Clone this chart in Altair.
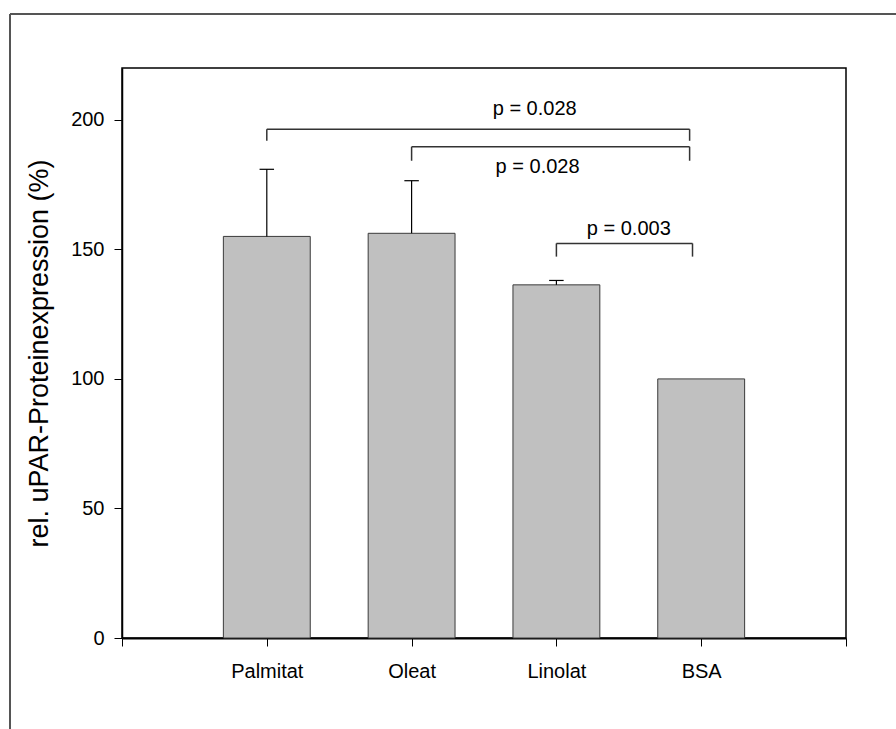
import json
import altair as alt
import pandas as pd

# Relative uPAR protein expression per fatty acid treatment (BSA = control)
categories = ["Palmitat", "Oleat", "Linolat", "BSA"]
means = [155.0, 156.2, 136.3, 100.0]
errors = [25.9, 20.3, 1.7, 0.0]

# Significance brackets: from group position to group position, at given heights
bracket_left = [1.0, 2.0, 3.0]
bracket_right = [3.92, 3.92, 3.94]
bracket_top = [196.4, 189.6, 152.3]
bracket_leg = [191.9, 184.2, 147.2]

p_labels = ["p = 0.028", "p = 0.028", "p = 0.003"]
p_label_x = [2.85, 2.87, 3.50]
p_label_y = [201.9, 179.3, 155.6]

y_ticks = [0, 50, 100, 150, 200]

FONT = "Liberation Sans"
HALF_BAR = 0.3
HALF_CAP = 0.05

positions = list(range(1, len(categories) + 1))
bars = pd.DataFrame({
    "cat": categories,
    "pos": positions,
    "mean": means,
    "err": errors,
})
bars["lo"] = bars["pos"] - HALF_BAR
bars["hi"] = bars["pos"] + HALF_BAR
bars["top"] = bars["mean"] + bars["err"]
bars["capl"] = bars["pos"] - HALF_CAP
bars["capr"] = bars["pos"] + HALF_CAP
err_df = bars[bars["err"] > 0]

brackets = pd.DataFrame({
    "left": bracket_left,
    "right": bracket_right,
    "top": bracket_top,
    "leg": bracket_leg,
})
labels = pd.DataFrame({"label": p_labels, "x": p_label_x, "y": p_label_y})

x_scale = alt.Scale(domain=[0, len(categories) + 1], nice=False, zero=False)
y_scale = alt.Scale(domain=[0, 220], nice=False)

label_lookup = json.dumps([""] + categories + [""])
x_axis = alt.Axis(
    values=list(range(0, len(categories) + 2)),
    labelExpr=f"{label_lookup}[datum.value]",
    title=None, grid=False,
    domainColor="black", domainWidth=2,
    tickColor="black", tickSize=8, tickWidth=1,
    labelFont=FONT, labelFontSize=20, labelColor="black",
    labelPadding=15, labelFlush=False, labelOverlap=False,
)
y_axis = alt.Axis(
    values=y_ticks, grid=False,
    title="rel. uPAR-Proteinexpression (%)",
    domainColor="black", domainWidth=1.5,
    tickColor="black", tickSize=8, tickWidth=1,
    labelFont=FONT, labelFontSize=20, labelColor="black", labelPadding=10,
    titleFont=FONT, titleFontSize=27, titleFontWeight="normal", titleColor="black",
    titleAngle=270, titleAlign="center", titleBaseline="middle",
    titleX=-83, titleY=285,
)


def X(field):
    return alt.X(field, scale=x_scale, axis=x_axis)


def Y(field):
    return alt.Y(field, scale=y_scale, axis=y_axis)


bar_layer = alt.Chart(bars).mark_bar(
    fill="#c0c0c0", stroke="#3a3a3a", strokeWidth=1
).encode(
    x=X("lo:Q"),
    x2="hi:Q",
    y=Y("mean:Q"),
    y2=alt.datum(0),
)

err_line = alt.Chart(err_df).mark_rule(color="black", strokeWidth=1.2).encode(
    x=X("pos:Q"),
    y=Y("mean:Q"),
    y2="top:Q",
)
err_cap = alt.Chart(err_df).mark_rule(color="black", strokeWidth=1.2).encode(
    x=X("capl:Q"),
    x2="capr:Q",
    y=Y("top:Q"),
)

bracket_color = "#333333"
br_h = alt.Chart(brackets).mark_rule(color=bracket_color, strokeWidth=1.5).encode(
    x=X("left:Q"),
    x2="right:Q",
    y=Y("top:Q"),
)
br_l = alt.Chart(brackets).mark_rule(color=bracket_color, strokeWidth=1.5).encode(
    x=X("left:Q"),
    y=Y("leg:Q"),
    y2="top:Q",
)
br_r = alt.Chart(brackets).mark_rule(color=bracket_color, strokeWidth=1.5).encode(
    x=X("right:Q"),
    y=Y("leg:Q"),
    y2="top:Q",
)

p_text = alt.Chart(labels).mark_text(
    font=FONT, fontSize=20, color="black", align="center", baseline="alphabetic"
).encode(
    x=X("x:Q"),
    y=Y("y:Q"),
    text="label:N",
)

# Outer figure frame (top and left edges)
one = pd.DataFrame({"k": [0]})
frame_left = alt.Chart(one).mark_rule(color="#555555", strokeWidth=2).encode(
    x=alt.value(-112), y=alt.value(-54), y2=alt.value(661)
)
frame_top = alt.Chart(one).mark_rule(color="#555555", strokeWidth=2).encode(
    x=alt.value(-112), x2=alt.value(774), y=alt.value(-54)
)

chart = alt.layer(
    bar_layer, err_line, err_cap, br_h, br_l, br_r, p_text, frame_left, frame_top
).properties(
    width=724,
    height=570,
    autosize=alt.AutoSizeParams(type="none"),
    padding={"left": 122, "top": 68, "right": 50, "bottom": 91},
    background="white",
).configure_view(
    stroke="black", strokeWidth=1.5
)

chart.save("out.html", embed_options={"renderer": "svg", "actions": False})
